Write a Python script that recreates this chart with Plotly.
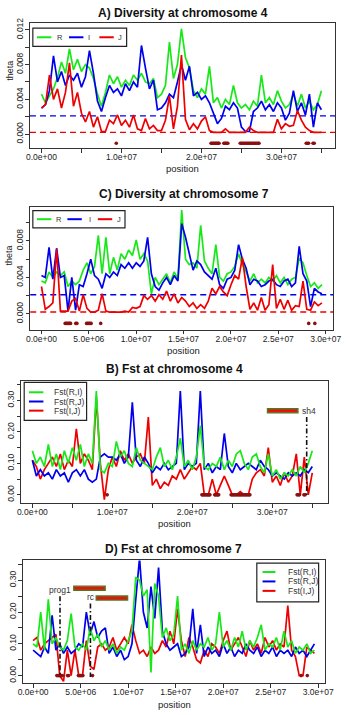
import plotly.graph_objects as go

W, H = 350, 715

# ---------------- data ----------------
chr4_mb = [round(0.5 * i, 1) for i in range(71)]
chr7_mb = [round(0.4 * i, 1) for i in range(75)]

# nucleotide diversity theta (x 1e-3), chromosome 4
theta4_R = [4.6, 3.6, 4.4, 5.2, 6.5, 8.3, 7.0, 9.8, 7.4, 8.6,
            7.2, 8.0, 7.6, 6.4, 4.6, 3.2, 4.8, 6.8, 5.8, 6.6,
            5.4, 6.2, 5.6, 6.8, 6.2, 7.0, 6.0, 5.8, 6.4, 4.2,
            4.6, 5.6, 10.6, 6.4, 8.0, 12.1, 8.8, 7.6, 5.0, 4.2,
            5.2, 4.6, 7.8, 3.6, 4.2, 3.0, 4.0, 3.4, 5.6, 3.6,
            3.0, 3.4, 2.8, 3.8, 3.2, 6.8, 3.6, 4.2, 3.4, 5.0,
            3.8, 3.0, 3.4, 4.6, 3.2, 4.6, 3.0, 3.8, 2.8, 3.4, 5.0]
theta4_I = [3.0, 3.4, 5.0, 9.0, 6.0, 7.2, 5.6, 6.8, 6.2, 7.0,
            5.4, 6.6, 9.6, 7.0, 3.8, 2.6, 4.2, 5.6, 4.8, 5.2,
            4.4, 5.8, 5.0, 6.0, 5.4, 10.2, 7.6, 5.2, 6.2, 2.8,
            3.0, 3.6, 4.6, 4.2, 6.0, 8.0, 6.2, 7.8, 4.4, 4.8,
            4.0, 4.4, 3.6, 2.4, 1.2, 1.8, 3.2, 2.8, 3.6, 3.0,
            0.8, 0.3, 0.3, 2.6, 3.0, 3.8, 2.8, 3.4, 2.6, 3.6,
            3.0, 1.6, 2.4, 5.0, 2.6, 3.6, 2.2, 4.6, 0.8, 3.6, 2.8]
theta4_J = [3.0, 3.4, 6.8, 4.0, 5.2, 3.0, 4.8, 8.2, 3.2, 4.8,
            2.4, 1.4, 2.6, 0.8, 2.0, 0.3, 0.3, 1.6, 1.2, 2.2,
            1.0, 1.6, 0.8, 2.2, 0.6, 0.4, 1.8, 0.6, 1.0, 0.4,
            0.4, 1.6, 4.4, 0.6, 3.2, 9.1, 1.7, 0.5, 1.2, 0.6,
            1.5, 2.0, 0.4, 0.2, 0.2, 0.2, 0.6, 0.2, 0.2, 0.2,
            0.2, 0.2, 0.8, 0.4, 0.2, 0.2, 0.2, 0.2, 0.2, 1.7,
            0.6, 1.2, 0.9, 1.0, 2.7, 1.6, 0.8, 0.4, 0.2, 0.2, 0.2]

# nucleotide diversity theta (x 1e-3), chromosome 7
theta7_R = [3.6, 3.4, 4.6, 4.0, 4.6, 4.2, 4.6, 3.0, 3.6, 3.2,
            3.6, 4.8, 5.6, 4.4, 5.2, 8.6, 4.4, 8.4, 4.4, 6.2,
            4.8, 6.6, 6.0, 7.0, 6.4, 8.1, 6.0, 6.6, 5.8, 2.2,
            4.0, 3.2, 3.8, 4.4, 3.4, 4.6, 3.8, 11.4, 6.0, 5.4,
            5.6, 5.0, 9.7, 5.8, 5.0, 4.4, 7.6, 4.0, 3.6, 4.4,
            4.6, 5.2, 6.6, 5.4, 4.6, 3.6, 4.4, 3.4, 3.8, 3.4,
            4.0, 3.6, 4.2, 3.4, 4.0, 3.2, 3.8, 4.0, 6.1, 5.6,
            4.2, 3.0, 3.4, 2.8, 3.2]
theta7_I = [4.2, 4.0, 7.3, 3.8, 7.2, 4.0, 4.2, 0.3, 4.0, 0.4,
            3.2, 3.0, 4.4, 6.0, 4.2, 3.8, 2.8, 4.4, 4.0, 4.6,
            4.2, 5.4, 5.0, 5.6, 5.0, 5.6, 5.2, 5.8, 8.4, 4.4,
            3.0, 2.6, 3.4, 4.0, 3.2, 4.2, 3.6, 9.9, 8.4, 6.6,
            4.8, 5.8, 5.4, 4.6, 4.2, 3.8, 5.0, 3.2, 2.8, 3.8,
            4.0, 4.8, 7.6, 6.0, 5.0, 3.2, 3.8, 3.6, 3.0, 3.2,
            3.6, 3.8, 3.2, 3.0, 3.6, 3.8, 3.0, 3.4, 7.4, 4.4,
            3.6, 0.8, 2.8, 2.4, 2.2]
theta7_J = [3.0, 0.5, 0.8, 1.2, 7.1, 0.3, 0.3, 0.3, 1.4, 1.7,
            0.3, 2.1, 0.6, 0.2, 0.2, 0.4, 2.2, 0.3, 0.2, 0.2,
            0.2, 0.2, 0.3, 0.2, 0.7, 0.6, 0.8, 2.0, 1.6, 2.0,
            1.4, 2.1, 1.6, 2.5, 1.4, 2.2, 1.2, 1.8, 1.4, 0.8,
            1.2, 0.6, 1.0, 0.6, 1.4, 2.8, 2.2, 3.0, 2.4, 2.0,
            3.2, 4.2, 3.8, 6.2, 3.0, 0.5, 1.2, 0.4, 1.8, 0.4,
            1.0, 5.4, 0.6, 1.6, 0.5, 1.5, 0.4, 0.9, 0.8, 3.6,
            0.5, 0.4, 1.3, 0.9, 1.2]

# Fst (x 0.01), chromosome 4
fst4_RI = [14, 10, 12, 9, 16, 9, 13, 8, 14, 10,
           15, 11, 16, 9, 13, 10, 33, 8, 7, 10,
           9, 17, 12, 14, 10, 9, 15, 11, 10, 9,
           8, 12, 15, 9, 11, 8, 12, 18, 9, 11,
           8, 12, 22, 9, 8, 10, 9, 12, 8, 11,
           9, 13, 14, 10, 8, 12, 13, 9, 7, 13,
           6, 8, 5, 7, 6, 8, 6, 9, 7, 10, 14]
fst4_RJ = [11, 6, 8, 6, 7, 5, 8, 6, 7, 4,
           7, 8, 6, 8, 5, 4, 5, 12, 13, 12,
           12, 11, 13, 10, 12, 29.4, 11, 9, 12, 10,
           7, 9, 8, 10, 8, 9, 10, 33, 8, 10,
           9, 10, 33, 8, 10, 7, 9, 8, 19.5, 9,
           7, 10, 8, 9, 10, 9, 8, 11, 9, 8,
           6, 7, 6, 5, 7, 6, 7, 6, 8, 7, 9]
fst4_IJ = [11, 9, 5, 8, 10, 12, 9, 13, 8, 11,
           9, 21, 10, 13, 11, 8, 31, 10, -1.5, 8,
           12, 9, 14, 11, 13, 10, 12, 13, 10, 24.7,
           3, 5, 2, 4, 3, 6, 5, 8, 5, 7,
           9, 8, 10, 0, 0, 5, 0, 3, 6, 3,
           0, 0, 1, 0, 0, 5, 7, 8, 6, 15,
           4, 6, 3, 7, 4, 6, 13, 0, 12, 0, 7]

# Fst (x 0.01), chromosome 7
fst7_RI = [10, 9, 20, 8, 24, 10, 12, 9, 8, 11,
           19.5, 9, 8, 10, 8, 15, 11, 13, 9, 11,
           8, 10, 7, 9, 8, 11, 14, 31, 30, 25,
           27, 1, 29, 25, 12, 15, 11, 13, 25, 8,
           10, 7, 11, 8, 10, 9, 12, 8, 10, 20,
           9, 11, 8, 12, 9, 14, 8, 11, 9, 12,
           16, 8, 10, 9, 12, 8, 14, 9, 11, 7,
           9, 8, 10, 7, 8]
fst7_RJ = [8, 7, 6, 9, 7, 19, 8, 10, 7, 9,
           7, 8, 10, 9, 20, 13, 17, 12, 14, 15,
           7, 9, 6, 8, 5, 6, 10, 24, 37, 20,
           15, 28, 18, 34, 14, 10, 8, 9, 10, 6,
           7, 9, 21, 7, 16, 6, 9, 7, 8, 6,
           10, 7, 9, 6, 8, 7, 10, 8, 7, 9,
           6, 8, 7, 9, 6, 8, 7, 8, 6, 9,
           7, 8, 6, 8, 10]
fst7_IJ = [11, 12, 8, 10, 11, 12, 13, 0, -1.8, 8,
           0, 8, 0, 0, 11, 3, 2, 9, 10, 8,
           9, 12, 8, 10, 12, 10, 16, 11, 7, 8,
           6, 9, 7, 8, 11, 9, 14, 10, 21, 11,
           6, 12, 9, 5, 4, 8, 6, 10, 9, 7,
           11, 14, 8, 10, 12, 9, 6, 11, 8, 10,
           7, 12, 9, 11, 8, 10, 9, 22, 8, 6,
           0, 0, 9, 8, 7]

# windows where diversity of J is ~0 (Mb)
chr4_low_mb = [9.35,
               21.2, 21.33, 21.46, 21.59, 21.72, 21.85, 21.98, 22.1, 22.2,
               22.8, 22.93, 23.06, 23.19, 23.3,
               24.85, 25.0, 25.15, 25.3, 25.45, 25.6, 25.75, 25.9, 26.05,
               26.2, 26.35, 26.5, 26.65, 26.8, 26.95, 27.1, 27.2,
               33.1, 33.25, 33.4, 33.95, 34.1]
chr7_low_mb = [2.5, 2.62, 2.74, 2.86, 2.98, 3.07,
               3.62, 3.74,
               4.76, 4.88, 5.0, 5.12, 5.24,
               6.25,
               28.2, 28.85]
low_theta_level = -0.00105

# genome-wide mean thresholds
theta_mean_I = 0.0021
theta_mean_J = 0.0002

# candidate genes: name, position (Mb), label y, label x (Mb), bar start/end (Mb), bar y, line top
genes_chr4 = [("sh4", 34.3, 0.267, 33.45, 29.4, 33.2, 0.267, 0.247)]
genes_chr7 = [("prog1", 2.83, 0.268, 2.85, 4.28, 7.58, 0.275, 0.25),
              ("rc", 6.03, 0.248, 6.13, 6.64, 9.94, 0.244, 0.227)]

chr4_ticks = [0, 5e6, 1e7, 1.5e7, 2e7, 2.5e7, 3e7, 3.5e7]
chr4_ticktext = ["0.0e+00", "", "1.0e+07", "", "2.0e+07", "", "3.0e+07", ""]
chr7_ticks = [0, 5e6, 1e7, 1.5e7, 2e7, 2.5e7, 3e7]
chr7_ticktext = ["0.0e+00", "5.0e+06", "1.0e+07", "1.5e+07", "2.0e+07", "2.5e+07", "3.0e+07"]
theta_ticks = [0, 0.002, 0.004, 0.006, 0.008, 0.010, 0.012]
theta_ticktext = ["0.000", "", "0.004", "", "0.008", "", "0.012"]
fst_ticks = [0, 0.05, 0.10, 0.15, 0.20, 0.25, 0.30, 0.35]
fst_ticktext = ["0.00", "", "0.10", "", "0.20", "", "0.30", ""]

GREEN, BLUE, RED, DARKRED = "#18e818", "#0000ee", "#ee0000", "#8b1010"
FONT = "Liberation Sans, Arial, sans-serif"

# ---------------- figure ----------------
def px_x(p):
    return p / W

def px_y(p):
    return 1 - p / H

fig = go.Figure()

bp4 = [m * 1e6 for m in chr4_mb]
bp7 = [m * 1e6 for m in chr7_mb]

def add_line(x, y, color, xa, ya, scale):
    fig.add_trace(go.Scatter(x=x, y=[v * scale for v in y], mode="lines",
                             line=dict(color=color, width=1.7), xaxis=xa, yaxis=ya,
                             showlegend=False, hoverinfo="skip"))

def add_low(mbs, level, xa, ya):
    fig.add_trace(go.Scatter(x=[m * 1e6 for m in mbs], y=[level] * len(mbs), mode="markers",
                             marker=dict(color=DARKRED, size=3.6), xaxis=xa, yaxis=ya,
                             showlegend=False, hoverinfo="skip"))

# A) diversity chr4
add_line(bp4, theta4_R, GREEN, "x", "y", 1e-3)
add_line(bp4, theta4_I, BLUE, "x", "y", 1e-3)
add_line(bp4, theta4_J, RED, "x", "y", 1e-3)
add_low(chr4_low_mb, low_theta_level, "x", "y")
# C) diversity chr7
add_line(bp7, theta7_R, GREEN, "x2", "y2", 1e-3)
add_line(bp7, theta7_I, BLUE, "x2", "y2", 1e-3)
add_line(bp7, theta7_J, RED, "x2", "y2", 1e-3)
add_low(chr7_low_mb, low_theta_level, "x2", "y2")
# B) Fst chr4
add_line(bp4, fst4_IJ, RED, "x3", "y3", 0.01)
add_line(bp4, fst4_RJ, BLUE, "x3", "y3", 0.01)
add_line(bp4, fst4_RI, GREEN, "x3", "y3", 0.01)
add_low(chr4_low_mb, 0.0, "x3", "y3")
# D) Fst chr7
add_line(bp7, fst7_IJ, RED, "x4", "y4", 0.01)
add_line(bp7, fst7_RJ, BLUE, "x4", "y4", 0.01)
add_line(bp7, fst7_RI, GREEN, "x4", "y4", 0.01)
add_low(chr7_low_mb, 0.0, "x4", "y4")

def xax(dom, rng, tv, tt, anchor):
    return dict(domain=[px_x(dom[0]), px_x(dom[1])], range=rng, tickvals=tv, ticktext=tt,
                showline=True, mirror=True, linecolor="#333", linewidth=1.2,
                ticks="outside", ticklen=3.5, tickwidth=1, tickcolor="#333",
                ticklabelstandoff=-3,
                showgrid=False, zeroline=False, anchor=anchor,
                tickfont=dict(size=8.5, color="#222", family=FONT))

def yax(dom, rng, tv, tt, anchor):
    d = xax((0, 1), rng, tv, tt, anchor)
    d["domain"] = [px_y(dom[1]), px_y(dom[0])]
    d["tickangle"] = -90
    d["ticklabelstandoff"] = -1
    return d

fig.update_layout(
    width=W, height=H, margin=dict(l=0, r=0, t=0, b=0),
    paper_bgcolor="white", plot_bgcolor="white",
    font=dict(family=FONT, color="#222"),
    xaxis=xax((26, 344), [-1.44e6, 36.73e6], chr4_ticks, chr4_ticktext, "y"),
    yaxis=yax((18.3, 144), [-0.0016, 0.012766], theta_ticks, theta_ticktext, "x"),
    xaxis2=xax((26.3, 342), [-1.185e6, 30.8e6], chr7_ticks, chr7_ticktext, "y2"),
    yaxis2=yax((203, 327), [-0.00174, 0.01177], theta_ticks[:6], theta_ticktext[:6], "x2"),
    xaxis3=xax((17, 336), [-1.38e6, 36.91e6], chr4_ticks, chr4_ticktext, "y3"),
    yaxis3=yax((378.3, 501.7), [-0.0265, 0.3628], fst_ticks, fst_ticktext, "x3"),
    xaxis4=xax((18.4, 333), [-1.10e6, 30.68e6], chr7_ticks, chr7_ticktext, "y4"),
    yaxis4=yax((559.3, 682.7), [-0.023, 0.3625], fst_ticks, fst_ticktext, "x4"),
)

shapes = []
annotations = []

# dashed mean lines in diversity panels
for xa, ya in (("x", "y"), ("x2", "y2")):
    for val, col in ((theta_mean_I, BLUE), (theta_mean_J, RED)):
        shapes.append(dict(type="line", xref=xa + " domain", x0=0, x1=1, yref=ya,
                           y0=val, y1=val, line=dict(color=col, width=1.4, dash="6px,4px"),
                           layer="below"))

# gene markers
def add_genes(genes, xa, ya):
    for name, pos, ty, tx, b0, b1, by, ltop in genes:
        shapes.append(dict(type="line", xref=xa, yref=ya, x0=pos * 1e6, x1=pos * 1e6,
                           y0=ltop, y1=-0.004,
                           line=dict(color="#111", width=1.6, dash="5px,2.5px,1.5px,2.5px")))
        shapes.append(dict(type="rect", xref=xa, yref=ya, x0=b0 * 1e6, x1=b1 * 1e6,
                           y0=by - 0.0065, y1=by + 0.0065, fillcolor="#ee1010",
                           line=dict(color="#4f7a1e", width=1.4)))
        annotations.append(dict(xref=xa, yref=ya, x=tx * 1e6, y=ty, text=name,
                                showarrow=False, xanchor="left" if name == "sh4" else "center",
                                yanchor="middle", font=dict(size=8.5, color="#333", family=FONT)))

add_genes(genes_chr4, "x3", "y3")
add_genes(genes_chr7, "x4", "y4")

# legends
def legend_box(x0, x1, y0, y1):
    shapes.append(dict(type="rect", xref="paper", yref="paper", x0=px_x(x0), x1=px_x(x1),
                       y0=px_y(y1), y1=px_y(y0), line=dict(color="#222", width=1.2),
                       fillcolor="white"))

def legend_line(x0, x1, y, col):
    shapes.append(dict(type="line", xref="paper", yref="paper", x0=px_x(x0), x1=px_x(x1),
                       y0=px_y(y), y1=px_y(y), line=dict(color=col, width=2)))

def legend_text(x, y, txt, anchor="center", size=7.5):
    annotations.append(dict(xref="paper", yref="paper", x=px_x(x), y=px_y(y), text=txt,
                            showarrow=False, xanchor=anchor, yanchor="middle",
                            font=dict(size=size, color="#333", family=FONT)))

div_names = ["R", "I", "J"]
div_cols = [GREEN, BLUE, RED]
for (bx0, bx1, by0, by1, ly, items) in (
        (29, 126.7, 23.3, 41.7, 32.5, [(33.3, 48.3, 57.5), (66.7, 81.7, 88.0), (98.3, 113.3, 120.0)]),
        (29, 125, 207.0, 224.5, 215.7, [(33.3, 48.3, 56.5), (65.0, 80.0, 88.3), (96.7, 111.7, 119.0)])):
    legend_box(bx0, bx1, by0, by1)
    for (a, b, t), nm, c in zip(items, div_names, div_cols):
        legend_line(a, b, ly, c)
        legend_text(t, ly, nm)

fst_names = ["Fst(R,I)", "Fst(R,J)", "Fst(I,J)"]
for (bx0, bx1, by0, by1, lx0, lx1, tx, ys) in (
        (20, 85, 380, 418.3, 25, 40, 49, [390, 399.3, 408.5]),
        (262.3, 326.7, 562, 601, 268.3, 281.7, 292.5, [571, 580.5, 590])):
    legend_box(bx0, bx1, by0, by1)
    for y, nm, c in zip(ys, fst_names, div_cols):
        legend_line(lx0, lx1, y, c)
        legend_text(tx, y, nm, anchor="left", size=8.5)

# titles and axis labels
for txt, x, y in (("A) Diversity at chromosome 4", 185, 8.3),
                  ("C) Diversity at chromosome 7", 186, 190),
                  ("B) Fst at chromosome 4", 176.5, 366.7),
                  ("D) Fst at chromosome 7", 175.5, 548.3)):
    annotations.append(dict(xref="paper", yref="paper", x=px_x(x), y=px_y(y),
                            text="<b>%s</b>" % txt, showarrow=False, xanchor="center",
                            yanchor="middle", font=dict(size=12, color="#111", family=FONT)))
for x, y in ((185, 165), (185.7, 347.5), (176.3, 522.5), (176.3, 704.5)):
    annotations.append(dict(xref="paper", yref="paper", x=px_x(x), y=px_y(y), text="position",
                            showarrow=False, xanchor="center", yanchor="middle",
                            font=dict(size=9.5, color="#222", family=FONT)))
for x, y in ((4.5, 66), (4.5, 252)):
    annotations.append(dict(xref="paper", yref="paper", x=px_x(x), y=px_y(y), text="theta",
                            showarrow=False, xanchor="center", yanchor="middle", textangle=-90,
                            font=dict(size=9, color="#222", family=FONT)))

fig.update_layout(shapes=shapes, annotations=annotations)
fig.write_html("out.html")
